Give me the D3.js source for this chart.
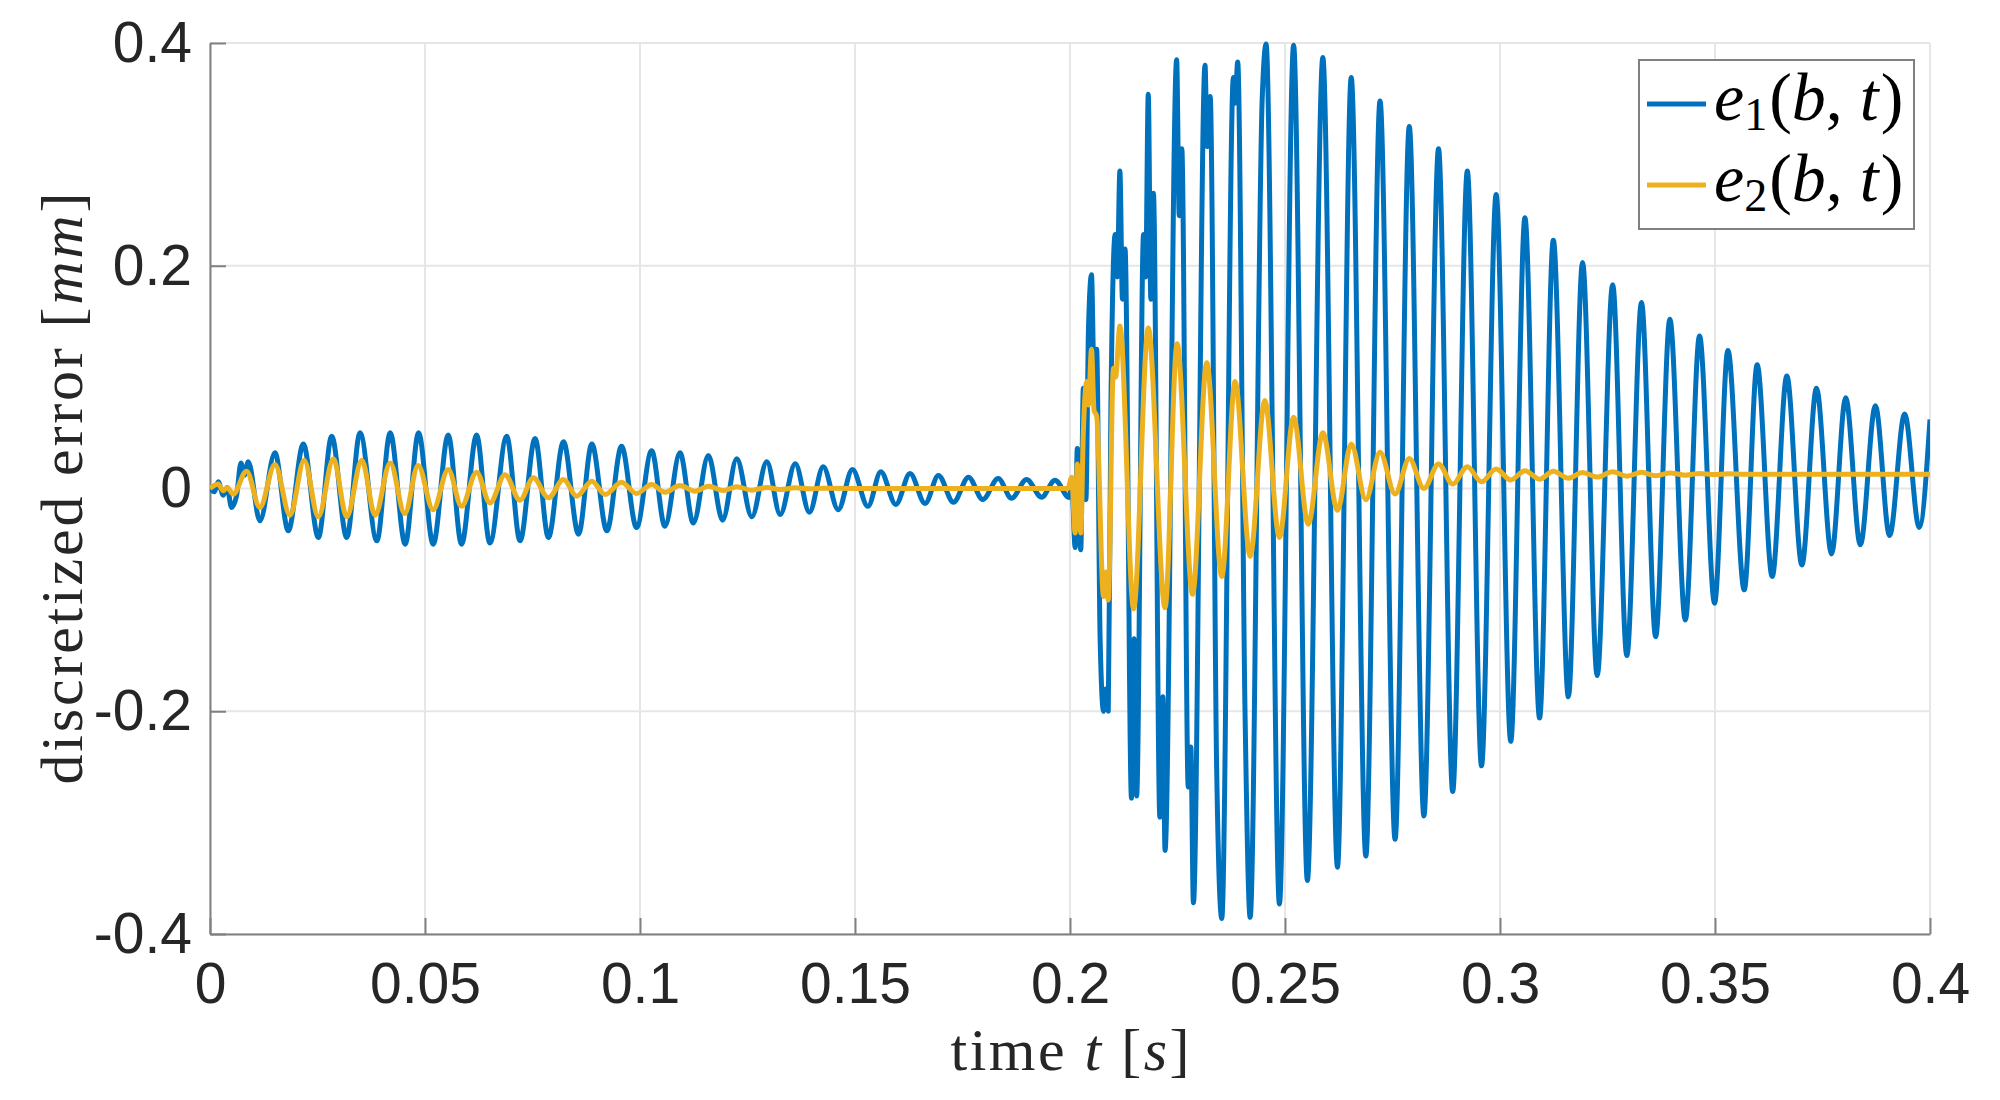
<!DOCTYPE html>
<html>
<head>
<meta charset="utf-8">
<script src="https://cdn.jsdelivr.net/npm/d3@7"></script>
<style>
  body { margin: 0; background: #fff; }
  svg { display: block; }
</style>
</head>
<body>
<div id="chart"></div>
<script>
// ticks
const xTicks = [0, 0.05, 0.1, 0.15, 0.2, 0.25, 0.3, 0.35, 0.4];
const xTickLabels = ['0', '0.05', '0.1', '0.15', '0.2', '0.25', '0.3', '0.35', '0.4'];
const yTicks = [-0.4, -0.2, 0, 0.2, 0.4];
const yTickLabels = ['-0.4', '-0.2', '0', '0.2', '0.4'];

// series: [time s, error mm] (extrema + spikes)
const e1Samples = [
  [0.0000, 0.000], [0.0010, -0.003], [0.0019, 0.006], [0.0031, -0.006], [0.0040, 0.001],
  [0.0050, -0.017], [0.0062, -0.006], [0.0072, 0.023], [0.0080, 0.012], [0.0089, 0.024],
  [0.0116, -0.029], [0.0151, 0.032], [0.0182, -0.038], [0.0217, 0.040], [0.0252, -0.044],
  [0.0283, 0.047], [0.0318, -0.044], [0.0349, 0.050], [0.0388, -0.047], [0.0419, 0.050],
  [0.0454, -0.050], [0.0485, 0.050], [0.0519, -0.050], [0.0554, 0.048], [0.0585, -0.050],
  [0.0620, 0.048], [0.0651, -0.049], [0.0690, 0.047], [0.0721, -0.047], [0.0756, 0.045],
  [0.0787, -0.044], [0.0822, 0.042], [0.0857, -0.041], [0.0888, 0.040], [0.0923, -0.038],
  [0.0957, 0.038], [0.0992, -0.035], [0.1027, 0.034], [0.1058, -0.034], [0.1093, 0.032],
  [0.1124, -0.031], [0.1159, 0.0296], [0.1192, -0.0284], [0.1225, 0.0266], [0.1260, -0.0254],
  [0.1295, 0.024], [0.1326, -0.0233], [0.1361, 0.0222], [0.1394, -0.0213], [0.1426, 0.0195],
  [0.1461, -0.019], [0.1494, 0.017], [0.1530, -0.016], [0.1560, 0.015], [0.1595, -0.0144],
  [0.1628, 0.0135], [0.1663, -0.0135], [0.1694, 0.0117], [0.1729, -0.0123], [0.1764, 0.0102],
  [0.1797, -0.0099], [0.1833, 0.009], [0.1864, -0.0087], [0.1899, 0.0081], [0.1934, -0.0078],
  [0.1965, 0.0075], [0.1998, -0.008],
  // impact at t = 0.2
  [0.2004, 0.005], [0.2012, -0.053], [0.2017, 0.036], [0.2025, -0.055], [0.2031, 0.090],
  [0.2037, -0.010], [0.2043, 0.144], [0.2050, 0.192], [0.2056, 0.100], [0.2062, 0.125],
  [0.2070, -0.134], [0.2078, -0.200], [0.2083, -0.180], [0.2089, -0.200], [0.2095, 0.070],
  [0.2105, 0.228], [0.2110, 0.190], [0.2116, 0.285], [0.2122, 0.170], [0.2128, 0.215],
  [0.2143, -0.278], [0.2149, -0.135], [0.2155, -0.276], [0.2171, 0.228], [0.2176, 0.190],
  [0.2182, 0.354], [0.2188, 0.170], [0.2194, 0.265], [0.2209, -0.295], [0.2216, -0.187],
  [0.2221, -0.325], [0.2248, 0.385], [0.2254, 0.245], [0.2260, 0.305], [0.2275, -0.268],
  [0.2281, -0.232], [0.2287, -0.372], [0.2314, 0.380], [0.2319, 0.307], [0.2326, 0.352],
  [0.2341, -0.250], [0.2353, -0.386], [0.2380, 0.369], [0.2384, 0.346], [0.2390, 0.383],
  [0.2407, -0.200], [0.2419, -0.385], [0.2447, 0.350], [0.2456, 0.399], [0.2487, -0.373],
  [0.2520, 0.398],
  [0.2552, -0.352], [0.2588, 0.387], [0.2622, -0.340], [0.2654, 0.369], [0.2688, -0.330],
  [0.2721, 0.348], [0.2756, -0.315], [0.2789, 0.325], [0.2823, -0.294], [0.2857, 0.305],
  [0.2890, -0.272], [0.2924, 0.285], [0.2957, -0.249], [0.2991, 0.264], [0.3025, -0.227],
  [0.3058, 0.243], [0.3092, -0.206], [0.3124, 0.223], [0.3159, -0.187], [0.3192, 0.203],
  [0.3226, -0.168], [0.3262, 0.183], [0.3295, -0.150], [0.3329, 0.167], [0.3362, -0.133],
  [0.3395, 0.152], [0.3431, -0.118], [0.3464, 0.137], [0.3499, -0.103], [0.3530, 0.124],
  [0.3568, -0.091], [0.3598, 0.111], [0.3633, -0.079], [0.3667, 0.101], [0.3702, -0.0686],
  [0.3736, 0.090], [0.3771, -0.0588], [0.3804, 0.0815], [0.3838, -0.0506], [0.3873, 0.0743],
  [0.3906, -0.0423], [0.3941, 0.067], [0.3975, -0.035], [0.4000, 0.062]
];

const e2Samples = [
  [0.0000, 0.000], [0.0019, 0.004], [0.0031, -0.002], [0.0040, 0.001], [0.0054, -0.005],
  [0.0085, 0.0156], [0.0116, -0.017], [0.0151, 0.0216], [0.0186, -0.024], [0.0219, 0.0254],
  [0.0252, -0.0254], [0.0287, 0.0266], [0.0318, -0.0254], [0.0353, 0.0254], [0.0384, -0.024],
  [0.0419, 0.023], [0.0453, -0.0225], [0.0484, 0.0207], [0.0519, -0.019], [0.0554, 0.017],
  [0.0585, -0.016], [0.0620, 0.0147], [0.0651, -0.013], [0.0686, 0.0123], [0.0721, -0.0105],
  [0.0752, 0.0096], [0.0787, -0.0084], [0.0822, 0.008], [0.0853, -0.0069], [0.0888, 0.0066],
  [0.0919, -0.0054], [0.0957, 0.0057], [0.0992, -0.0045], [0.1027, 0.0036], [0.1058, -0.0033],
  [0.1093, 0.0027], [0.1128, -0.0024], [0.1159, 0.002], [0.1194, -0.0018], [0.1225, 0.0015],
  [0.1260, -0.0015], [0.1295, 0.001], [0.1326, -0.0009], [0.1360, 0.0006], [0.1395, -0.0003],
  [0.1426, 0.0002], [0.1600, 0.000], [0.1995, 0.000],
  // impact at t = 0.2
  [0.2004, 0.010], [0.2012, -0.040], [0.2017, 0.022], [0.2025, -0.040], [0.2031, 0.050],
  [0.2039, 0.096], [0.2043, 0.075], [0.2050, 0.125], [0.2056, 0.070], [0.2062, 0.065],
  [0.2078, -0.097], [0.2083, -0.075], [0.2089, -0.100], [0.2101, 0.108], [0.2106, 0.100],
  [0.2116, 0.146], [0.2148, -0.108], [0.2182, 0.144], [0.2221, -0.107], [0.2249, 0.130],
  [0.2285, -0.095], [0.2318, 0.113], [0.2353, -0.079], [0.2384, 0.096], [0.2419, -0.061],
  [0.2453, 0.079], [0.2487, -0.044], [0.2520, 0.064],
  [0.2554, -0.032], [0.2588, 0.050], [0.2622, -0.0196], [0.2654, 0.040], [0.2688, -0.010],
  [0.2721, 0.0325], [0.2756, -0.005], [0.2789, 0.027], [0.2823, 0.000], [0.2857, 0.022],
  [0.2890, 0.004], [0.2924, 0.0196], [0.2957, 0.006], [0.2991, 0.0175], [0.3025, 0.0077],
  [0.3058, 0.016], [0.3092, 0.0083], [0.3124, 0.0155], [0.3159, 0.0093], [0.3192, 0.0144],
  [0.3226, 0.0103], [0.3262, 0.0150], [0.3295, 0.0110], [0.3329, 0.0145], [0.3362, 0.0115],
  [0.3395, 0.0140], [0.3431, 0.0120], [0.3464, 0.0135], [0.3499, 0.0125], [0.3530, 0.0132],
  [0.3568, 0.0127], [0.4000, 0.0129]
];

const seriesColors = ['#0072BD', '#EDB120'];

// layout
const W = 2000, H = 1100;
const plotLeft = 210, plotRight = 1930, plotTop = 43, plotBottom = 934;
const tickFont = '"Liberation Sans", Arial, Helvetica, sans-serif';
const mathFont = '"Liberation Serif", "Times New Roman", serif';
const axisColor = '#808080';
const gridColor = '#e6e6e6';

const svg = d3.select('#chart').append('svg')
  .attr('width', W)
  .attr('height', H);

svg.append('rect').attr('width', W).attr('height', H).attr('fill', '#fff');

const x = d3.scaleLinear().domain([0, 0.4]).range([plotLeft, plotRight]);
const y = d3.scaleLinear().domain([-0.4, 0.4]).range([plotBottom, plotTop]);

// grid
const grid = svg.append('g').attr('class', 'grid');
grid.selectAll('.vgrid').data(xTicks).join('line')
  .attr('class', 'vgrid')
  .attr('x1', d => x(d)).attr('x2', d => x(d))
  .attr('y1', plotTop).attr('y2', plotBottom)
  .attr('stroke', gridColor).attr('stroke-width', 2);
grid.selectAll('.hgrid').data(yTicks).join('line')
  .attr('class', 'hgrid')
  .attr('x1', plotLeft).attr('x2', plotRight)
  .attr('y1', d => y(d)).attr('y2', d => y(d))
  .attr('stroke', gridColor).attr('stroke-width', 2);

// axes
const xAxis = d3.axisBottom(x)
  .tickValues(xTicks)
  .tickFormat((d, i) => xTickLabels[i])
  .tickSizeInner(-16)
  .tickSizeOuter(0)
  .tickPadding(29);
const yAxis = d3.axisLeft(y)
  .tickValues(yTicks)
  .tickFormat((d, i) => yTickLabels[i])
  .tickSizeInner(-16)
  .tickSizeOuter(0)
  .tickPadding(18);

function styleAxis (g) {
  g.attr('font-family', tickFont).attr('font-size', 57);
  g.select('.domain').attr('stroke', axisColor).attr('stroke-width', 2);
  g.selectAll('.tick line').attr('stroke', axisColor).attr('stroke-width', 2);
  g.selectAll('.tick text').attr('fill', '#262626');
}

svg.append('g')
  .attr('transform', `translate(0,${plotBottom})`)
  .call(xAxis)
  .call(styleAxis);
svg.append('g')
  .attr('transform', `translate(${plotLeft},0)`)
  .call(yAxis)
  .call(styleAxis);

// data
svg.append('clipPath').attr('id', 'plot-clip')
  .append('rect')
  .attr('x', plotLeft).attr('y', plotTop - 4)
  .attr('width', plotRight - plotLeft).attr('height', plotBottom - plotTop + 8);

const line = d3.line()
  .x(d => x(d[0]))
  .y(d => y(d[1]))
  .curve(d3.curveMonotoneX);

svg.append('g').attr('clip-path', 'url(#plot-clip)')
  .selectAll('.series')
  .data([e1Samples, e2Samples])
  .join('path')
  .attr('class', 'series')
  .attr('d', line)
  .attr('fill', 'none')
  .attr('stroke', (d, i) => seriesColors[i])
  .attr('stroke-width', 5)
  .attr('stroke-linejoin', 'round');

// axis labels
const xLabel = svg.append('text')
  .attr('x', (plotLeft + plotRight) / 2)
  .attr('y', 1070)
  .attr('text-anchor', 'middle')
  .attr('font-family', mathFont)
  .attr('font-size', 60)
  .attr('fill', '#262626')
  .attr('textLength', 239)
  .attr('lengthAdjust', 'spacing');
xLabel.append('tspan').text('time ');
xLabel.append('tspan').attr('font-style', 'italic').text('t');
xLabel.append('tspan').text(' [');
xLabel.append('tspan').attr('font-style', 'italic').text('s');
xLabel.append('tspan').text(']');

const yLabel = svg.append('text')
  .attr('transform', `translate(82,${(plotTop + plotBottom) / 2}) rotate(-90)`)
  .attr('text-anchor', 'middle')
  .attr('font-family', mathFont)
  .attr('font-size', 60)
  .attr('fill', '#262626')
  .attr('textLength', 592)
  .attr('lengthAdjust', 'spacing');
yLabel.append('tspan').text('discretized error [');
yLabel.append('tspan').attr('font-style', 'italic').text('mm');
yLabel.append('tspan').text(']');

// legend
const legend = svg.append('g').attr('class', 'legend');
legend.append('rect')
  .attr('x', 1639).attr('y', 60)
  .attr('width', 275).attr('height', 169)
  .attr('fill', '#fff')
  .attr('stroke', axisColor)
  .attr('stroke-width', 2);

const legendRows = legend.selectAll('.legend-row')
  .data(seriesColors)
  .join('g')
  .attr('class', 'legend-row')
  .attr('transform', (d, i) => `translate(0,${i * 81})`);

legendRows.append('line')
  .attr('x1', 1647).attr('x2', 1706)
  .attr('y1', 104).attr('y2', 104)
  .attr('stroke', d => d)
  .attr('stroke-width', 5);

legendRows.each(function (d, i) {
  const t = d3.select(this).append('text')
    .attr('x', 1714).attr('y', 120)
    .attr('font-family', mathFont)
    .attr('font-size', 68)
    .attr('fill', '#000');
  t.append('tspan').attr('font-style', 'italic').text('e');
  t.append('tspan').attr('font-size', 46).attr('dy', 10).text(String(i + 1));
  t.append('tspan').attr('dy', -10).attr('dx', 2).text('(');
  t.append('tspan').attr('font-style', 'italic').text('b');
  t.append('tspan').text(', ');
  t.append('tspan').attr('font-style', 'italic').text('t');
  t.append('tspan').attr('dx', 2).text(')');
});
</script>
</body>
</html>
